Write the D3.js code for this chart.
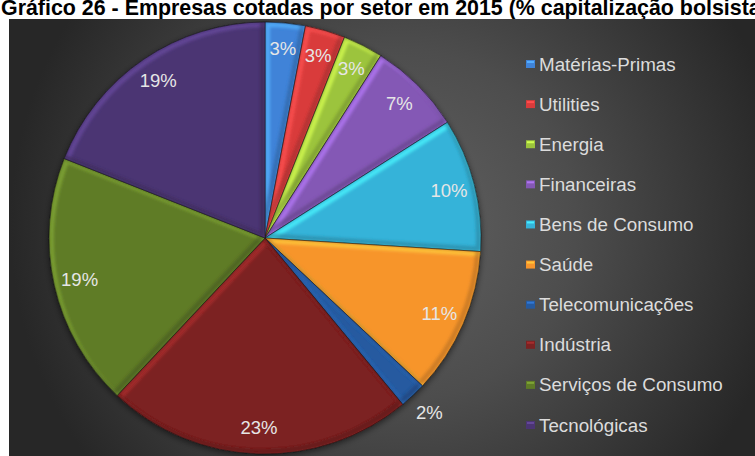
<!DOCTYPE html>
<html>
<head>
<meta charset="utf-8">
<script src="https://cdn.jsdelivr.net/npm/d3@7"></script>
<style>
  html, body { margin: 0; padding: 0; background: #ffffff; }
  svg { display: block; }
</style>
</head>
<body>
<script>
// Market capitalisation share of listed companies by sector, 2015 (%)
const chartTitle = "Gráfico 26 - Empresas cotadas por setor em 2015 (% capitalização bolsista)";
const sectors = ["Matérias-Primas", "Utilities", "Energia", "Financeiras", "Bens de Consumo",
                 "Saúde", "Telecomunicações", "Indústria", "Serviços de Consumo", "Tecnológicas"];
const shares = [3, 3, 3, 7, 10, 11, 2, 23, 19, 19];
const sectorColors = ["#3f83d8", "#d93b3b", "#9cc43c", "#8458b5", "#35b3d9",
                      "#f7952c", "#255aa0", "#7c2222", "#5f7b27", "#4b3573"];

const W = 755, H = 456;
const svg = d3.select("body").append("svg").attr("width", W).attr("height", H);
const defs = svg.append("defs");

// dark chart-area background with a soft radial light
const bg = defs.append("radialGradient").attr("id", "bgGrad")
  .attr("gradientUnits", "userSpaceOnUse").attr("cx", 400).attr("cy", 225).attr("r", 390);
bg.append("stop").attr("offset", "0%").attr("stop-color", "#616161");
bg.append("stop").attr("offset", "45%").attr("stop-color", "#4d4d4d");
bg.append("stop").attr("offset", "100%").attr("stop-color", "#272727");

defs.append("filter").attr("id", "soft").attr("x", "-20%").attr("y", "-20%").attr("width", "140%").attr("height", "140%")
  .append("feGaussianBlur").attr("stdDeviation", 1.6);

const shadow = defs.append("filter").attr("id", "pieShadow")
  .attr("x", "-10%").attr("y", "-10%").attr("width", "120%").attr("height", "120%");
shadow.append("feDropShadow").attr("dx", 0).attr("dy", 2).attr("stdDeviation", 3)
  .attr("flood-color", "#000").attr("flood-opacity", 0.55);

// title (sits above the chart box)
svg.append("text")
  .attr("x", 1).attr("y", 15)
  .attr("font-family", "'Liberation Sans', Arial, sans-serif")
  .attr("font-weight", "bold").attr("font-size", 21.4)
  .attr("fill", "#000")
  .text(chartTitle);

svg.append("rect").attr("x", 9).attr("y", 19).attr("width", W - 9).attr("height", H - 19)
  .attr("fill", "url(#bgGrad)");

// pie
const cx = 265, cy = 238, R = 216;
const pie = d3.pie().sort(null).value(d => d)(shares);
const arc = d3.arc().innerRadius(0).outerRadius(R);
const color = d3.scaleOrdinal().domain(sectors).range(sectorColors);

const g = svg.append("g").attr("transform", `translate(${cx},${cy})`);
const slicesG = g.append("g").attr("filter", "url(#pieShadow)");

pie.forEach((p, i) => {
  defs.append("clipPath").attr("id", "clip" + i)
    .append("path").attr("d", arc(p));
});

const slice = slicesG.selectAll("g.slice").data(pie).join("g").attr("class", "slice");

slice.append("path")
  .attr("d", arc)
  .attr("fill", (d, i) => color(sectors[i]));

// bevel: light rim on edges facing top-left, shade on edges facing bottom-right
slice.append("g").attr("clip-path", (d, i) => `url(#clip${i})`)
  .each(function (d, i) {
    const base = d3.color(color(sectors[i]));
    const sel = d3.select(this);
    sel.append("path").attr("d", arc(d))
      .attr("transform", "translate(2.5,2.5)")
      .attr("fill", "none").attr("stroke", base.brighter(0.9)).attr("stroke-width", 5)
      .attr("stroke-opacity", 0.75).attr("filter", "url(#soft)");
    sel.append("path").attr("d", arc(d))
      .attr("transform", "translate(-2.5,-2.5)")
      .attr("fill", "none").attr("stroke", base.darker(0.9)).attr("stroke-width", 5)
      .attr("stroke-opacity", 0.6).attr("filter", "url(#soft)");
  });

slice.append("path")
  .attr("d", arc)
  .attr("fill", "none")
  .attr("stroke", "rgba(20,20,20,0.55)")
  .attr("stroke-width", 1);

// percentage labels
const labelArc = d3.arc().innerRadius(190).outerRadius(190);
const outerLabelArc = d3.arc().innerRadius(240).outerRadius(240);
g.selectAll("text.pct").data(pie).join("text")
  .attr("class", "pct")
  .attr("transform", d => `translate(${(d.data < 2.5 ? outerLabelArc : labelArc).centroid(d)})`)
  .attr("text-anchor", "middle")
  .attr("dominant-baseline", "central")
  .attr("font-family", "'Liberation Sans', Arial, sans-serif")
  .attr("font-size", 18.5)
  .attr("fill", "#e6e6e6")
  .text(d => d.data + "%");

// legend
const legendY = d3.scalePoint().domain(sectors).range([64, 425]);
const legend = svg.append("g");
const item = legend.selectAll("g").data(sectors).join("g")
  .attr("transform", d => `translate(526,${legendY(d)})`);
item.append("rect").attr("x", 0).attr("y", -4).attr("width", 9).attr("height", 8)
  .attr("fill", d => color(d));
item.append("rect").attr("x", 1).attr("y", -3).attr("width", 7).attr("height", 2)
  .attr("fill", d => d3.color(color(d)).brighter(0.8));
item.append("text")
  .attr("x", 13).attr("y", 0)
  .attr("dominant-baseline", "central")
  .attr("font-family", "'Liberation Sans', Arial, sans-serif")
  .attr("font-size", 18.8)
  .attr("fill", "#dcdcdc")
  .text(d => d);
</script>
</body>
</html>
